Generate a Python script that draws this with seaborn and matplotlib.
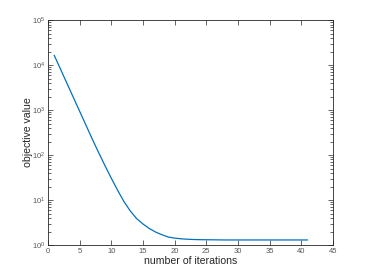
import matplotlib
matplotlib.use("Agg")
import matplotlib.pyplot as plt
import matplotlib.ticker as mticker
import seaborn as sns
import numpy as np
import pandas as pd

# objective value per iteration
iterations = list(range(1, 42))
objective = [16600, 8130, 3980, 1950, 955, 468, 229, 115, 58.9, 30.9,
             16.6, 9.33, 5.75, 3.89, 2.95, 2.34, 1.95, 1.70, 1.51, 1.43,
             1.38, 1.35, 1.33, 1.32, 1.315, 1.31, 1.305, 1.30, 1.30, 1.30,
             1.30, 1.30, 1.30, 1.30, 1.30, 1.30, 1.30, 1.30, 1.30, 1.30, 1.30]

df = pd.DataFrame({"iter": iterations, "obj": objective})

sns.set_style("ticks")
plt.rcParams['font.family'] = ['Liberation Sans', 'DejaVu Sans']

fig = plt.figure(figsize=(3.68, 2.76), dpi=100)
ax = fig.add_axes([0.13, 0.112, 0.775, 0.815])

sns.lineplot(data=df, x="iter", y="obj", color="#0072BD", linewidth=0.9, ax=ax)
ax.set_yscale("log")
ax.set_xlim(0, 45)
ax.set_ylim(1, 1e5)
ax.set_xticks(range(0, 46, 5))
ax.set_yticks([1, 10, 100, 1000, 1e4, 1e5])
ax.yaxis.set_major_formatter(mticker.LogFormatterMathtext())
ax.yaxis.set_minor_locator(mticker.LogLocator(subs=np.arange(2, 10), numticks=20))
ax.yaxis.set_minor_formatter(mticker.NullFormatter())

ax.set_xlabel("number of iterations", fontsize=7.6, color="#262626", labelpad=1)
ax.set_ylabel("objective value", fontsize=7.6, color="#262626", labelpad=-1)

for s in ax.spines.values():
    s.set_visible(True)
    s.set_color("#262626")
    s.set_linewidth(0.6)
ax.tick_params(which="both", direction="in", top=True, right=True,
               colors="#262626", labelsize=5.5, width=0.5, pad=2)
ax.tick_params(which="major", length=3.5)
ax.tick_params(which="minor", length=2)
for lab in ax.get_xticklabels() + ax.get_yticklabels():
    lab.set_color("#555555")

fig.savefig("out.png", dpi=100)
